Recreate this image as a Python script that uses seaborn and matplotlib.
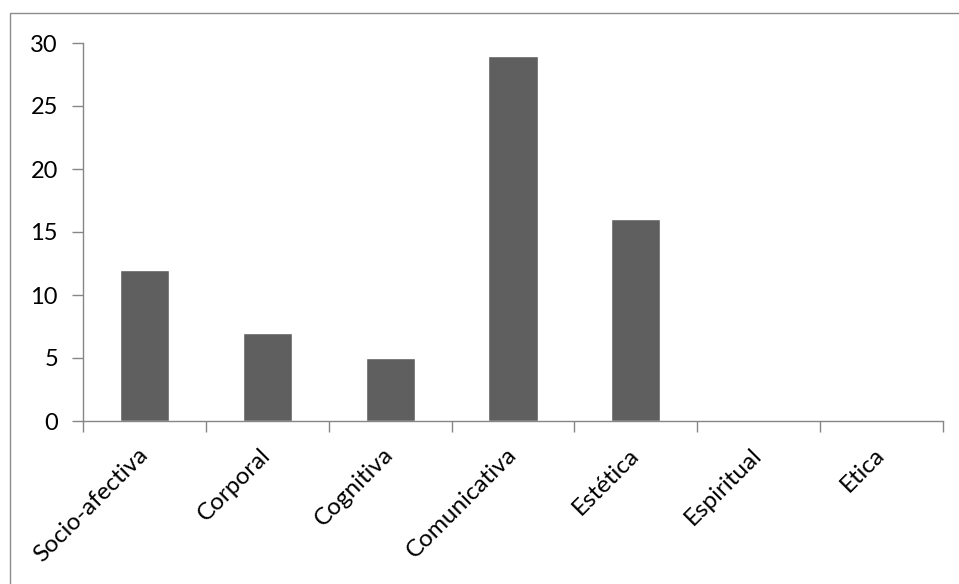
import matplotlib
matplotlib.use("Agg")
import matplotlib.pyplot as plt
import seaborn as sns
import numpy as np
import pandas as pd
from matplotlib.patches import Rectangle

categorias = ["Socio-afectiva", "Corporal", "Cognitiva", "Comunicativa",
              "Estética", "Espiritual", "Etica"]
valores = [12, 7, 5, 29, 16, 0, 0]
y_ticks = [0, 5, 10, 15, 20, 25, 30]

sns.set_style("white")
plt.rcParams["font.family"] = ["Lato", "DejaVu Sans"]

df = pd.DataFrame({"categoria": categorias, "valor": valores})

fig = plt.figure(figsize=(9.59, 5.84), dpi=100)
ax = fig.add_axes([83 / 959, 1 - 421 / 584, (943 - 83) / 959, (421 - 43) / 584])

sns.barplot(data=df, x="categoria", y="valor", color="#5f5f5f", width=0.4,
            saturation=1, ax=ax)

eje = "#868686"
ax.set_xlim(-0.5, len(categorias) - 0.5)
ax.set_ylim(0, 30)
ax.set_yticks(y_ticks)
ax.set_xlabel("")
ax.set_ylabel("")
ax.set_xticks(np.arange(-0.5, len(categorias)), minor=True)
ax.tick_params(axis="x", which="major", bottom=True, length=0, pad=22, labelsize=17.5)
ax.tick_params(axis="x", which="minor", bottom=True, length=8, color=eje, width=1,
               direction="out")
ax.tick_params(axis="y", left=True, length=8, color=eje, width=1, direction="out",
               pad=10, labelsize=17)
ax.tick_params(labelcolor="black")
for lab in ax.get_xticklabels():
    lab.set_rotation(45)
    lab.set_ha("right")
    lab.set_va("center")
    lab.set_rotation_mode("anchor")

for s in ["top", "right"]:
    ax.spines[s].set_visible(False)
for s in ["left", "bottom"]:
    ax.spines[s].set_color(eje)
    ax.spines[s].set_linewidth(1)

# marco del gráfico
fig.patches.append(Rectangle((10 / 959, -0.1), 1.2, 1 - 13 / 584 + 0.1,
                             transform=fig.transFigure, fill=False,
                             edgecolor="#8c8c8c", linewidth=1))

fig.savefig("out.png", dpi=100)
